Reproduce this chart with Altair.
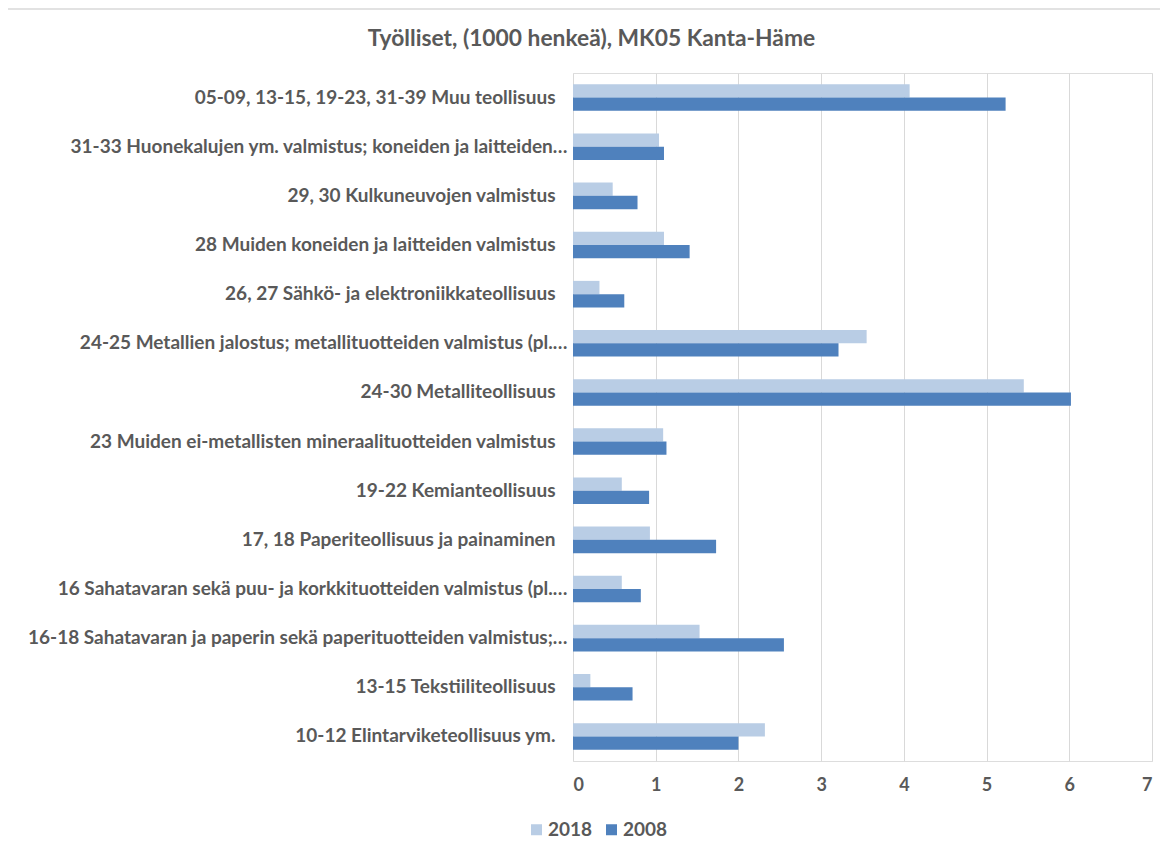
import altair as alt
import pandas as pd

categories = [
    "05-09, 13-15, 19-23, 31-39 Muu teollisuus",
    "31-33 Huonekalujen ym. valmistus; koneiden ja laitteiden…",
    "29, 30 Kulkuneuvojen valmistus",
    "28 Muiden koneiden ja laitteiden valmistus",
    "26, 27 Sähkö- ja elektroniikkateollisuus",
    "24-25 Metallien jalostus; metallituotteiden valmistus (pl.…",
    "24-30 Metalliteollisuus",
    "23 Muiden ei-metallisten mineraalituotteiden valmistus",
    "19-22 Kemianteollisuus",
    "17, 18 Paperiteollisuus ja painaminen",
    "16 Sahatavaran sekä puu- ja korkkituotteiden valmistus (pl.…",
    "16-18 Sahatavaran ja paperin sekä paperituotteiden valmistus;…",
    "13-15 Tekstiiliteollisuus",
    "10-12 Elintarviketeollisuus ym.",
]
values_2018 = [4.07, 1.04, 0.48, 1.10, 0.32, 3.55, 5.45, 1.09, 0.59, 0.93, 0.59, 1.53, 0.21, 2.32]
values_2008 = [5.23, 1.10, 0.78, 1.41, 0.62, 3.21, 6.02, 1.13, 0.92, 1.73, 0.82, 2.55, 0.72, 2.00]
series = ["2018", "2008"]
x_ticks = [0, 1, 2, 3, 4, 5, 6, 7]

rows = []
for c, a, b in zip(categories, values_2018, values_2008):
    rows.append({"category": c, "year": "2018", "value": a})
    rows.append({"category": c, "year": "2008", "value": b})
df = pd.DataFrame(rows)

TEXT = "#595959"
GRID = "#D9D9D9"
FONT = "Lato"

bars = alt.Chart(df).mark_bar().encode(
    x=alt.X(
        "value:Q",
        scale=alt.Scale(domain=[0, 7], nice=False),
        axis=alt.Axis(
            values=x_ticks, title=None, domain=False, ticks=False, grid=True,
            gridColor=GRID, gridWidth=1, labelPadding=15, labelFontSize=18,
            labelFontWeight="bold", labelColor=TEXT, labelFont=FONT,
        ),
    ),
    y=alt.Y(
        "category:N",
        sort=categories,
        scale=alt.Scale(paddingInner=0.46, paddingOuter=0.23),
        axis=alt.Axis(
            title=None, domain=False, ticks=False, labelLimit=0,
            labelFontSize=19, labelFontWeight="bold", labelColor=TEXT,
            labelFont=FONT,
            labelPadding={"condition": {"test": "indexof(datum.value, '…') >= 0", "value": 6}, "value": 18},
        ),
    ),
    yOffset=alt.YOffset("year:N", sort=series, scale=alt.Scale(paddingInner=0, paddingOuter=0)),
    color=alt.Color(
        "year:N",
        sort=series,
        scale=alt.Scale(domain=series, range=["#B9CDE5", "#4F81BD"]),
        legend=alt.Legend(
            title=None, orient="none", legendX=-46, legendY=747,
            direction="horizontal", symbolType="square", symbolSize=121,
            symbolStrokeWidth=0, labelFontSize=19, labelFontWeight="bold",
            labelColor=TEXT, labelFont=FONT, columnPadding=9, labelOffset=2,
        ),
    ),
)

border_df = pd.DataFrame({"k": [0]})
top_line = alt.Chart(border_df).mark_rule(color=GRID, strokeWidth=1.5).encode(
    x=alt.value(-566), x2=alt.value(600), y=alt.value(-64)
)
left_line = alt.Chart(border_df).mark_rule(color=GRID, strokeWidth=1.5).encode(
    x=alt.value(-566), y=alt.value(-64), y2=alt.value(790)
)

chart = alt.layer(bars, top_line, left_line).properties(
    width=579,
    height=688,
    autosize=alt.AutoSizeParams(type="none"),
    padding={"left": 565, "top": 65, "right": 8, "bottom": 78},
    title=alt.TitleParams(
        "Työlliset, (1000 henkeä), MK05 Kanta-Häme",
        anchor="middle", frame="group", dx=-271, offset=-61,
        baseline="alphabetic", fontSize=22.8, fontWeight="bold",
        color=TEXT, font=FONT,
    ),
).configure_view(stroke=None).configure(background="white")

chart.save("out.html", embed_options={"renderer": "svg", "actions": False})
